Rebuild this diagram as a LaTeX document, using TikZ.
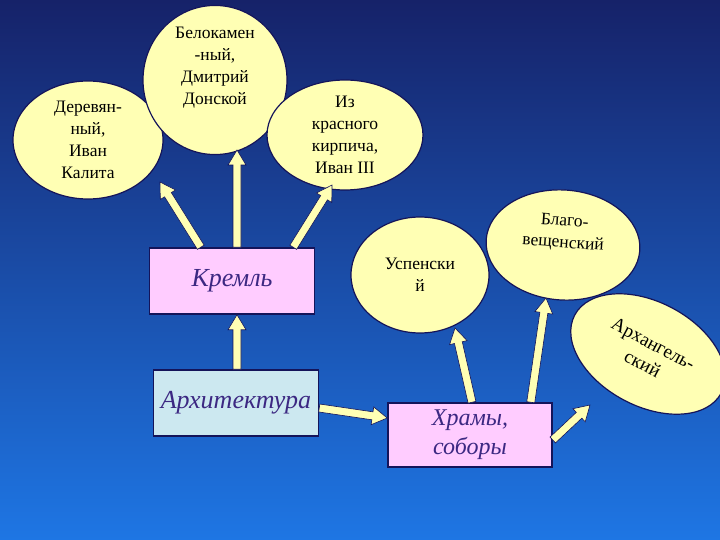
\documentclass[tikz,border=0pt]{standalone}
\usepackage{fontspec}
\setmainfont{Liberation Serif}
\usetikzlibrary{calc,shapes.geometric}
\definecolor{bgtop}{RGB}{22,34,105}
\definecolor{bgbot}{RGB}{30,118,228}
\definecolor{ellfill}{RGB}{255,255,180}
\definecolor{outl}{RGB}{20,20,90}
\definecolor{boxpink}{RGB}{255,204,255}
\definecolor{boxblue}{RGB}{204,232,240}
\definecolor{txtpurple}{RGB}{60,40,130}
\newcommand\barrow[2]{%
  \coordinate (hh) at ($(#2)!15pt!(#1)$);
  \filldraw[fill=ellfill,draw=outl,line width=0.6pt,line join=miter]
    ($(#1)!4pt!90:(#2)$) -- ($(hh)!4pt!90:(#2)$) -- ($(hh)!9pt!90:(#2)$) -- (#2)
    -- ($(hh)!9pt!-90:(#2)$) -- ($(hh)!4pt!-90:(#2)$) -- ($(#1)!4pt!-90:(#2)$) -- cycle;}
\tikzset{
  ell/.style={ellipse,draw=outl,line width=1.2pt,fill=ellfill,align=center,inner sep=0pt,
    font=\fontsize{17.5}{22}\selectfont},
  boxx/.style={draw=outl,line width=1.5pt,minimum width=165pt,minimum height=66pt,
    font=\fontsize{26}{30}\selectfont\itshape,text=txtpurple,align=center}
}
\begin{document}
\begin{tikzpicture}[x=1pt,y=-1pt]
\shade[top color=bgtop,bottom color=bgbot] (0,0) rectangle (720,540);
\useasboundingbox (0,0) rectangle (720,540);
\node[ell,minimum width=150pt,minimum height=118pt] (e1) at (88,140) {Деревян-\\ный,\\Иван\\Калита};
\node[ell,minimum width=144pt,minimum height=124pt] (e2) at (215,80) {Белокамен\\-ный,\\Дмитрий\\Донской\\[6pt]};
\node[ell,minimum width=156pt,minimum height=110pt] (e3) at (345,135) {Из\\красного\\кирпича,\\Иван III};
\node[ell,minimum width=138pt,minimum height=116pt] (e4) at (420,275) {Успенски\\й};
\node[ell,minimum width=154pt,minimum height=110pt,rotate=-4] (e5) at (563,245) {Благо-\\вещенский\\[6pt]};
\node[ell,minimum width=166pt,minimum height=104pt,rotate=-28,font=\fontsize{19}{23}\selectfont] (e6) at (648,354) {Архангель-\\ский};
\node[boxx,fill=boxpink] (k) at (232,281) {Кремль};
\node[boxx,fill=boxblue] (a) at (236,403) {Архитектура};
\node[boxx,fill=boxpink,minimum width=164pt,minimum height=64pt,font=\fontsize{24}{29}\selectfont\itshape] (h) at (470,435) {Храмы,\\соборы};
\coordinate (k1) at ($(k.north west)+(52,0)$);
\coordinate (k2) at ($(k.north)+(5,0)$);
\coordinate (k3) at ($(k.north east)+(-22,0)$);
\coordinate (t1) at (160,182);
\coordinate (t2) at (237,150);
\coordinate (t3) at (332,185);
\barrow{k1}{t1}\barrow{k2}{t2}\barrow{k3}{t3}
\coordinate (a1) at ($(a.north)+(1,0)$);
\coordinate (ka) at ($(k.south)+(5,0)$);
\barrow{a1}{ka}
\coordinate (a2) at ($(a.east)+(0,5)$);
\coordinate (ha) at ($(h.west)+(0,-17)$);
\barrow{a2}{ha}
\coordinate (h1) at ($(h.north)+(2,0)$);
\coordinate (u1) at (455,328);
\coordinate (h2) at ($(h.north east)+(-22,0)$);
\coordinate (b1) at (546,298);
\coordinate (h3) at ($(h.east)+(0,5)$);
\coordinate (r1) at (590,405);
\barrow{h1}{u1}\barrow{h2}{b1}\barrow{h3}{r1}
\end{tikzpicture}
\end{document}
